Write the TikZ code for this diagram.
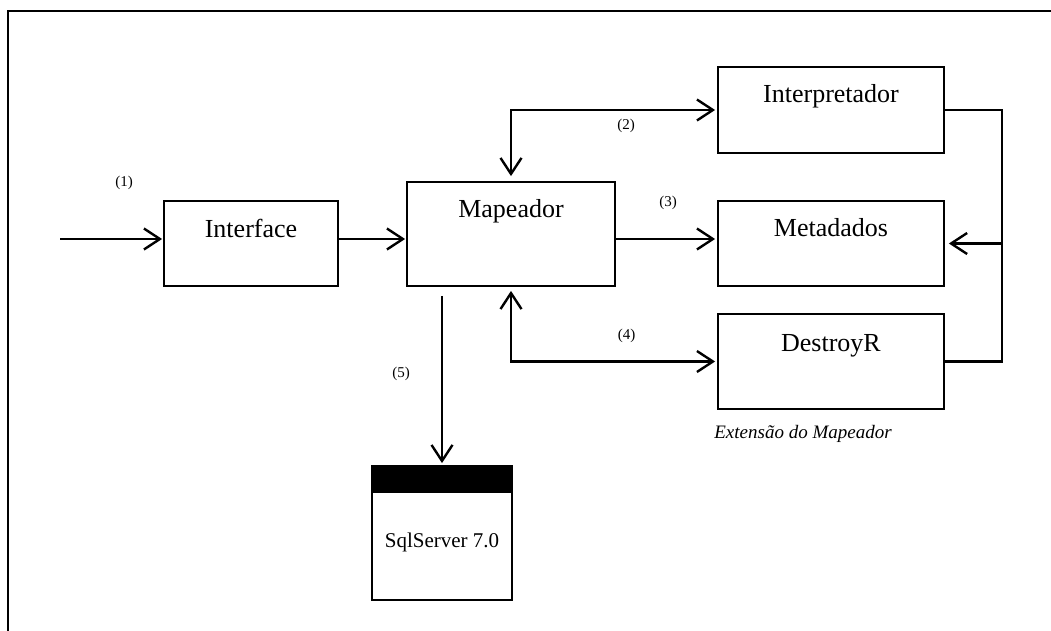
\documentclass[tikz,border=0pt]{standalone}
\usepackage{fontspec}
\setmainfont{Liberation Serif}
\usetikzlibrary{arrows.meta}
\begin{document}
\begin{tikzpicture}[x=1pt,y=-1pt,
  box/.style={draw,line width=1.8pt,inner sep=0pt,rectangle},
  bigtxt/.style={anchor=base,inner sep=0pt,font=\fontsize{26}{30}\selectfont},
  numtxt/.style={anchor=base,inner sep=0pt,font=\fontsize{15}{18}\selectfont},
  conn/.style={line width=2.4pt,line join=miter},
  tip/.style={-{Straight Barb[length=16pt,width=21pt]}},
  bitip/.style={{Straight Barb[length=16pt,width=21pt]}-{Straight Barb[length=16pt,width=21pt]}}
]
\useasboundingbox (0,0) rectangle (1051,631);
% frame
\draw[line width=2.2pt] (8,631) -- (8,11) -- (1051,11);

% boxes
\node[box,minimum width=174pt,minimum height=85pt] (iface) at (251,243.5) {};
\node[box,minimum width=208pt,minimum height=104pt] (map) at (511,234) {};
\node[box,minimum width=226pt,minimum height=86pt] (interp) at (831,110) {};
\node[box,minimum width=226pt,minimum height=85pt] (meta) at (831,243.5) {};
\node[box,minimum width=226pt,minimum height=95pt] (destroy) at (831,361.5) {};
\node[box,minimum width=140pt,minimum height=134pt] (sql) at (442,533) {};
\fill (sql.north west) rectangle ([yshift=-28pt]sql.north east);

% box texts
\node[bigtxt] (tiface) at (251,237) {Interface};
\node[bigtxt] (tmap) at (511,217) {Mapeador};
\node[bigtxt] (tinterp) at (831,103) {Interpretador};
\node[bigtxt] (tmeta) at (831,236) {Metadados};
\node[bigtxt] (tdestroy) at (831,351) {DestroyR};
\node[anchor=base,inner sep=0pt,font=\fontsize{21}{25}\selectfont] (tsql) at (442,547) {SqlServer 7.0};
\node[anchor=base,inner sep=0pt,font=\fontsize{19}{23}\selectfont\itshape] (text) at (803,438.5) {Extensão do Mapeador};

% number labels
\node[numtxt] (n1) at (124,186.5) {(1)};
\node[numtxt] (n2) at (626,130) {(2)};
\node[numtxt] (n3) at (668,206) {(3)};
\node[numtxt] (n4) at (626.5,339) {(4)};
\node[numtxt] (n5) at (401,377.5) {(5)};

% connectors
\coordinate (in) at (60,239);
\coordinate (bus) at (1002,243.5);
\draw[conn,tip,shorten >=1pt] (in) -- (in -| iface.west);
\draw[conn,tip,shorten >=1pt] (iface.east |- in) -- (map.west |- in);
\draw[conn,tip,shorten >=2pt] (map.east |- in) -- (meta.west |- in);
\draw[conn,bitip,shorten <=5pt,shorten >=2pt] (map.north) |- (interp.west);
\draw[conn,bitip,shorten <=4pt,shorten >=2pt] (map.south) |- (destroy.west);
\draw[conn,tip,shorten <=9pt,shorten >=2pt] (sql.north |- map.south) -- (sql.north);
\draw[conn] (interp.east) -| (bus) |- (destroy.east);
\draw[conn,tip,shorten >=4pt] (bus) -- (meta.east);
\end{tikzpicture}
\end{document}
